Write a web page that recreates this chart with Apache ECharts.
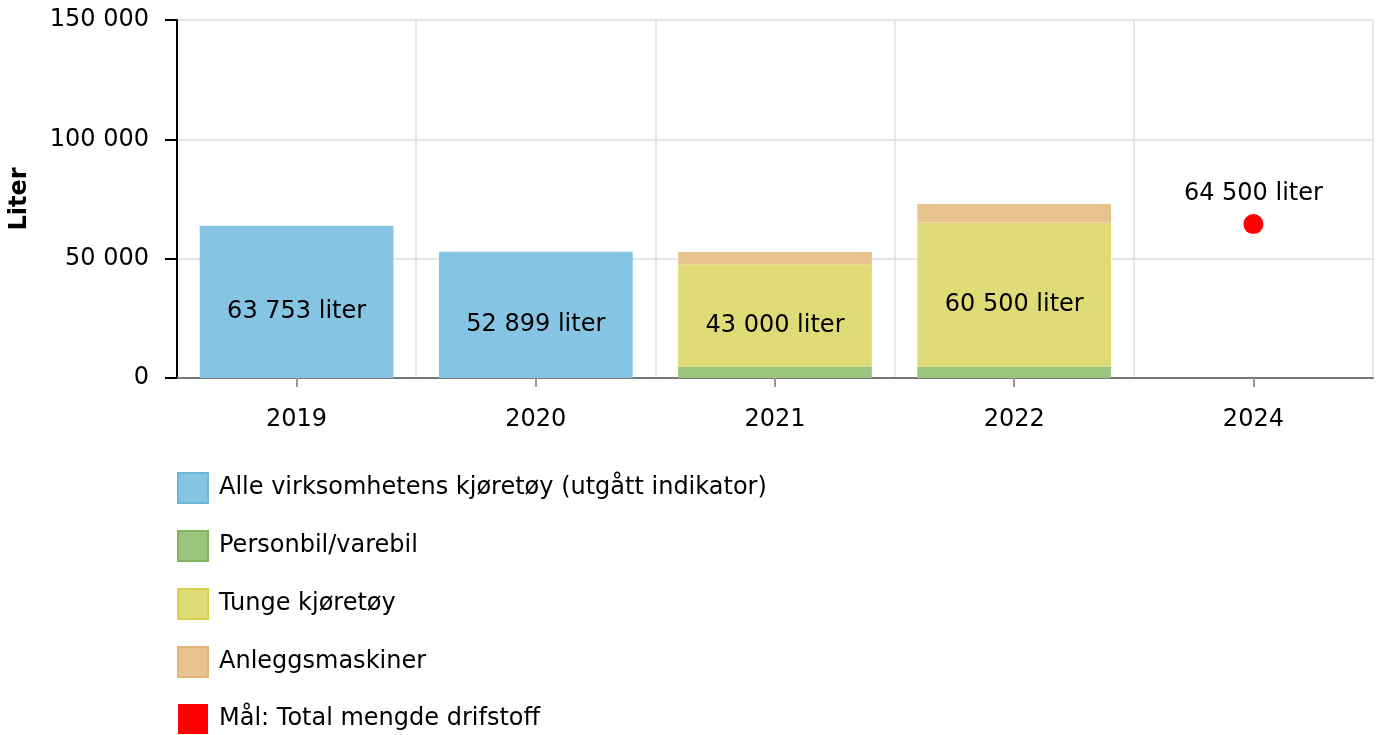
<!DOCTYPE html>
<html>
<head>
<meta charset="utf-8">
<script src="https://cdn.jsdelivr.net/npm/echarts@6/dist/echarts.min.js"></script>
<style>
  html, body { margin: 0; padding: 0; background: #fff; }
  #chart { width: 1377px; height: 735px; }
</style>
</head>
<body>
<div id="chart"></div>
<script>
const years = ['2019', '2020', '2021', '2022', '2024']
const alleKjoretoy = [63753, 52899, '-', '-', '-']
const personbil = ['-', '-', 4700, 4700, '-']
const tunge = ['-', '-', 43000, 60500, '-']
const anlegg = ['-', '-', 5100, 7700, '-']
const maal = ['-', '-', '-', '-', 64500]
const yTicks = [0, 50000, 100000, 150000]

const fmt = (v) => String(Math.round(v)).replace(/\B(?=(\d{3})+(?!\d))/g, ' ')
const FONT = 'DejaVu Sans'
const FS = 24

const barLabel = {
  show: true,
  position: 'inside',
  offset: [0, 10],
  color: '#000',
  fontFamily: FONT,
  fontSize: FS,
  formatter: (p) => fmt(p.value) + ' liter'
}

const chart = echarts.init(document.getElementById('chart'))
chart.setOption({
  animation: false,
  textStyle: { fontFamily: FONT },
  grid: { left: 177, right: 4, top: 20, bottom: 357, containLabel: false, outerBoundsMode: 'none' },
  legend: {
    orient: 'vertical',
    left: 177,
    top: 472,
    height: 300,
    padding: 0,
    itemWidth: 30,
    itemHeight: 30,
    itemGap: 26,
    icon: 'rect',
    textStyle: { fontSize: FS, color: '#000', fontFamily: FONT, padding: [0, 0, 0, 6] },
    data: [
      { name: 'Alle virksomhetens kjøretøy (utgått indikator)', itemStyle: { borderColor: '#6cb6dc', borderWidth: 2 } },
      { name: 'Personbil/varebil', itemStyle: { borderColor: '#7fb35d', borderWidth: 2 } },
      { name: 'Tunge kjøretøy', itemStyle: { borderColor: '#d6d052', borderWidth: 2 } },
      { name: 'Anleggsmaskiner', itemStyle: { borderColor: '#e3b477', borderWidth: 2 } },
      { name: 'Mål: Total mengde drifstoff', itemStyle: { borderWidth: 0 } }
    ]
  },
  xAxis: {
    type: 'category',
    data: years,
    axisLine: { lineStyle: { color: '#777', width: 2 } },
    axisTick: { show: true, length: 9, alignWithLabel: true, lineStyle: { color: '#999', width: 2 } },
    axisLabel: { color: '#000', fontSize: FS, margin: 30, fontFamily: FONT },
    splitLine: { show: true, lineStyle: { color: '#e0e0e0', width: 1.5 } }
  },
  yAxis: {
    type: 'value',
    min: 0,
    max: 150000,
    interval: 50000,
    name: 'Liter',
    nameLocation: 'middle',
    nameGap: 145,
    nameTextStyle: { fontSize: FS, fontWeight: 'bold', color: '#000', fontFamily: FONT },
    axisLine: { show: true, lineStyle: { color: '#000', width: 2 } },
    axisTick: { show: true, length: 12, lineStyle: { color: '#000', width: 2 } },
    axisLabel: {
      color: '#000', fontSize: FS, margin: 28, fontFamily: FONT,
      formatter: (v) => yTicks.includes(v) ? fmt(v) : ''
    },
    splitLine: { show: true, lineStyle: { color: '#dcdcdc', width: 1.5 } }
  },
  series: [
    {
      name: 'Alle virksomhetens kjøretøy (utgått indikator)',
      type: 'bar', stack: 'total', barWidth: '81%',
      itemStyle: { color: '#85c4e3' },
      label: barLabel,
      data: alleKjoretoy
    },
    {
      name: 'Personbil/varebil',
      type: 'bar', stack: 'total', barWidth: '81%',
      itemStyle: { color: '#9bc47e' },
      data: personbil
    },
    {
      name: 'Tunge kjøretøy',
      type: 'bar', stack: 'total', barWidth: '81%',
      itemStyle: { color: '#dfdb76' },
      label: barLabel,
      data: tunge
    },
    {
      name: 'Anleggsmaskiner',
      type: 'bar', stack: 'total', barWidth: '81%',
      itemStyle: { color: '#e9c38f' },
      data: anlegg
    },
    {
      name: 'Mål: Total mengde drifstoff',
      type: 'scatter',
      symbol: 'circle',
      symbolSize: 20,
      itemStyle: { color: '#ff0000', opacity: 1 },
      label: {
        show: true, position: 'top', distance: 8, color: '#000', fontSize: FS, fontFamily: FONT,
        formatter: (p) => fmt(p.value) + ' liter'
      },
      data: maal
    }
  ]
})
</script>
</body>
</html>
